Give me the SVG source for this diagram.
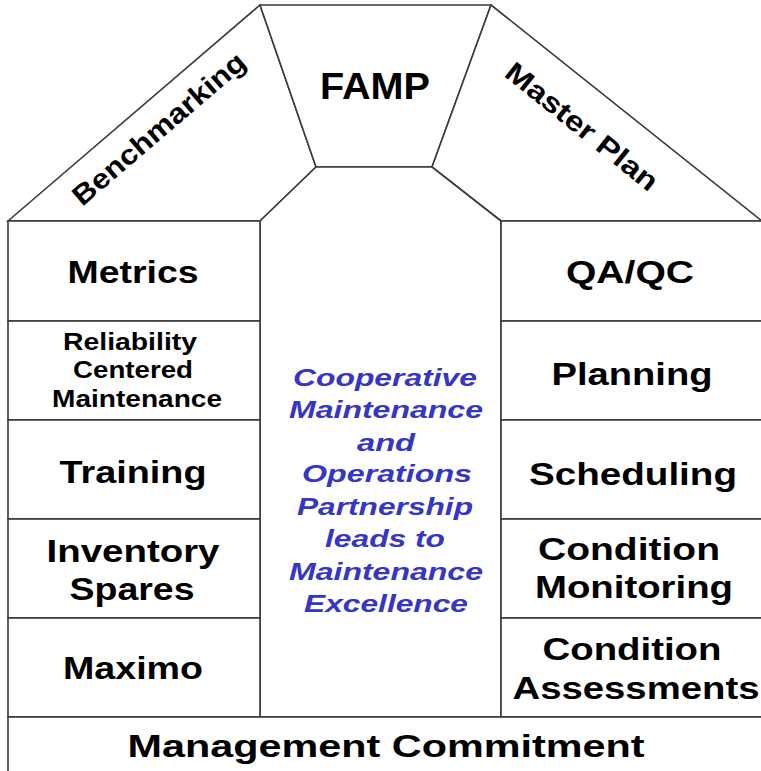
<svg xmlns="http://www.w3.org/2000/svg" width="761" height="771" viewBox="0 0 761 771">
<style>
.s{fill:#fff;stroke:#3a3a3a;stroke-width:1.6;stroke-linejoin:miter}
.t{font-family:"Liberation Sans",Arial,sans-serif;font-weight:bold;fill:#000;text-anchor:middle}
.m{font-size:31px}
.r{font-size:23px}
.c{font-family:"Liberation Sans",Arial,sans-serif;font-weight:bold;font-style:italic;fill:#3535c8;text-anchor:middle;font-size:24px}
</style>
<rect width="761" height="771" fill="#fff"/>
<g id="benchmarking">
<polygon class="s" points="8,221 260,5 316,167 260,221"/>
<text class="t" font-size="28" transform="translate(165,136) rotate(-40.6)" textLength="218" lengthAdjust="spacingAndGlyphs">Benchmarking</text>
</g>
<g id="famp">
<polygon class="s" points="260,5 491,5 432,167 316,167"/>
<text class="t" font-size="37" x="375" y="99" textLength="110" lengthAdjust="spacingAndGlyphs">FAMP</text>
</g>
<g id="master-plan">
<polygon class="s" points="491,5 762,221 501,221 432,167"/>
<text class="t" font-size="28" transform="translate(576,134) rotate(38.7)" textLength="187" lengthAdjust="spacingAndGlyphs">Master Plan</text>
</g>
<g id="center">
<polygon class="s" points="316,167 432,167 501,221 501,717 260,717 260,221"/>
<text class="c" x="385" y="386" textLength="184" lengthAdjust="spacingAndGlyphs">Cooperative</text>
<text class="c" x="386" y="418" textLength="194" lengthAdjust="spacingAndGlyphs">Maintenance</text>
<text class="c" x="386" y="451" textLength="58" lengthAdjust="spacingAndGlyphs">and</text>
<text class="c" x="387" y="482" textLength="170" lengthAdjust="spacingAndGlyphs">Operations</text>
<text class="c" x="385" y="515" textLength="176" lengthAdjust="spacingAndGlyphs">Partnership</text>
<text class="c" x="385" y="547" textLength="120" lengthAdjust="spacingAndGlyphs">leads to</text>
<text class="c" x="386" y="580" textLength="194" lengthAdjust="spacingAndGlyphs">Maintenance</text>
<text class="c" x="386" y="612" textLength="164" lengthAdjust="spacingAndGlyphs">Excellence</text>
</g>
<g id="metrics">
<rect class="s" x="8" y="221" width="252" height="100"/>
<text class="t m" x="133" y="283" textLength="131" lengthAdjust="spacingAndGlyphs">Metrics</text>
</g>
<g id="rcm">
<rect class="s" x="8" y="321" width="252" height="99"/>
<text class="t r" x="130" y="350" textLength="134" lengthAdjust="spacingAndGlyphs">Reliability</text>
<text class="t r" x="133" y="378" textLength="120" lengthAdjust="spacingAndGlyphs">Centered</text>
<text class="t r" x="137" y="407" textLength="170" lengthAdjust="spacingAndGlyphs">Maintenance</text>
</g>
<g id="training">
<rect class="s" x="8" y="420" width="252" height="99"/>
<text class="t m" x="133" y="483" textLength="147" lengthAdjust="spacingAndGlyphs">Training</text>
</g>
<g id="inventory">
<rect class="s" x="8" y="519" width="252" height="99"/>
<text class="t m" x="133" y="562" textLength="173" lengthAdjust="spacingAndGlyphs">Inventory</text>
<text class="t m" x="132" y="600" textLength="125" lengthAdjust="spacingAndGlyphs">Spares</text>
</g>
<g id="maximo">
<rect class="s" x="8" y="618" width="252" height="99"/>
<text class="t m" x="133" y="679" textLength="140" lengthAdjust="spacingAndGlyphs">Maximo</text>
</g>
<g id="qaqc">
<rect class="s" x="501" y="221" width="270" height="100"/>
<text class="t m" x="630" y="283" textLength="128" lengthAdjust="spacingAndGlyphs">QA/QC</text>
</g>
<g id="planning">
<rect class="s" x="501" y="321" width="270" height="99"/>
<text class="t m" x="632" y="385" textLength="161" lengthAdjust="spacingAndGlyphs">Planning</text>
</g>
<g id="scheduling">
<rect class="s" x="501" y="420" width="270" height="99"/>
<text class="t m" x="633" y="485" textLength="208" lengthAdjust="spacingAndGlyphs">Scheduling</text>
</g>
<g id="condition-monitoring">
<rect class="s" x="501" y="519" width="270" height="99"/>
<text class="t m" x="629" y="560" textLength="182" lengthAdjust="spacingAndGlyphs">Condition</text>
<text class="t m" x="634" y="598" textLength="198" lengthAdjust="spacingAndGlyphs">Monitoring</text>
</g>
<g id="condition-assessments">
<rect class="s" x="501" y="618" width="270" height="99"/>
<text class="t m" x="632" y="660" textLength="179" lengthAdjust="spacingAndGlyphs">Condition</text>
<text class="t m" x="636" y="699" textLength="247" lengthAdjust="spacingAndGlyphs">Assessments</text>
</g>
<g id="management-commitment">
<rect class="s" x="8" y="717" width="763" height="70"/>
<text class="t" font-size="32" x="386" y="757" textLength="517" lengthAdjust="spacingAndGlyphs">Management Commitment</text>
</g>
</svg>
